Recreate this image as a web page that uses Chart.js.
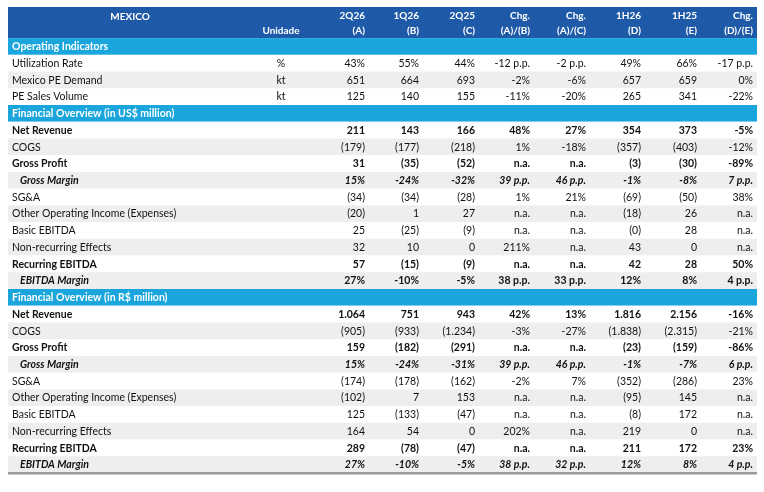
<!DOCTYPE html>
<html><head><meta charset="utf-8">
<script src="https://cdn.jsdelivr.net/npm/chart.js@4"></script>
<style>html,body{margin:0;padding:0;background:#fff}#wrap{width:764px;height:492px}</style>
</head><body><div id="wrap"><canvas id="tbl"></canvas></div>
<script>
// Dados da tabela
const headTop = ['', '', '2Q26', '1Q26', '2Q25', 'Chg.', 'Chg.', '1H26', '1H25', 'Chg.'];
const headBottom = ['', 'Unidade', '(A)', '(B)', '(C)', '(A)/(B)', '(A)/(C)', '(D)', '(E)', '(D)/(E)'];
const rowLabels = [
  'Operating Indicators', 'Utilization Rate', 'Mexico PE Demand', 'PE Sales Volume',
  'Financial Overview (in US$ million)', 'Net Revenue', 'COGS', 'Gross Profit', 'Gross Margin', 'SG&A',
  'Other Operating Income (Expenses)', 'Basic EBITDA', 'Non-recurring Effects', 'Recurring EBITDA', 'EBITDA Margin',
  'Financial Overview (in R$ million)', 'Net Revenue', 'COGS', 'Gross Profit', 'Gross Margin', 'SG&A',
  'Other Operating Income (Expenses)', 'Basic EBITDA', 'Non-recurring Effects', 'Recurring EBITDA', 'EBITDA Margin'
];
// s = secao, n = normal, b = negrito, bi = italico negrito, m = rotulo italico valores negrito
const rowStyles = ['s','n','n','n','s','b','n','b','bi','n','n','n','n','b','m','s','b','n','b','bi','n','n','n','n','b','bi'];
const units = ['', '%', 'kt', 'kt', '', '', '', '', '', '', '', '', '', '', '', '', '', '', '', '', '', '', '', '', '', ''];
const values = [
  [],
  ['43%','55%','44%','-12 p.p.','-2 p.p.','49%','66%','-17 p.p.'],
  ['651','664','693','-2%','-6%','657','659','0%'],
  ['125','140','155','-11%','-20%','265','341','-22%'],
  [],
  ['211','143','166','48%','27%','354','373','-5%'],
  ['(179)','(177)','(218)','1%','-18%','(357)','(403)','-12%'],
  ['31','(35)','(52)','n.a.','n.a.','(3)','(30)','-89%'],
  ['15%','-24%','-32%','39 p.p.','46 p.p.','-1%','-8%','7 p.p.'],
  ['(34)','(34)','(28)','1%','21%','(69)','(50)','38%'],
  ['(20)','1','27','n.a.','n.a.','(18)','26','n.a.'],
  ['25','(25)','(9)','n.a.','n.a.','(0)','28','n.a.'],
  ['32','10','0','211%','n.a.','43','0','n.a.'],
  ['57','(15)','(9)','n.a.','n.a.','42','28','50%'],
  ['27%','-10%','-5%','38 p.p.','33 p.p.','12%','8%','4 p.p.'],
  [],
  ['1.064','751','943','42%','13%','1.816','2.156','-16%'],
  ['(905)','(933)','(1.234)','-3%','-27%','(1.838)','(2.315)','-21%'],
  ['159','(182)','(291)','n.a.','n.a.','(23)','(159)','-86%'],
  ['15%','-24%','-31%','39 p.p.','46 p.p.','-1%','-7%','6 p.p.'],
  ['(174)','(178)','(162)','-2%','7%','(352)','(286)','23%'],
  ['(102)','7','153','n.a.','n.a.','(95)','145','n.a.'],
  ['125','(133)','(47)','n.a.','n.a.','(8)','172','n.a.'],
  ['164','54','0','202%','n.a.','219','0','n.a.'],
  ['289','(78)','(47)','n.a.','n.a.','211','172','23%'],
  ['27%','-10%','-5%','38 p.p.','32 p.p.','12%','8%','4 p.p.']
];

// Layout (unidades do eixo x = px dentro da area)
const colRight = [357, 411, 467, 522, 578, 633, 689, 745];
const unitCenter = 273;
const headH = 1.86;
const FONT = 'Lato, "Open Sans", sans-serif';

const tablePlugin = {
  id: 'tablePlugin',
  beforeDatasetsDraw(chart) {
    const c = chart.ctx, xs = chart.scales.x, ys = chart.scales.y;
    const X0 = xs.getPixelForValue(0), X1 = xs.getPixelForValue(749);
    // cabecalho
    c.fillStyle = '#1f5aa8';
    c.fillRect(X0, ys.getPixelForValue(-headH), X1 - X0, ys.getPixelForValue(0) - ys.getPixelForValue(-headH));
    // fundos das linhas
    let alt = 0;
    rowLabels.forEach((l, i) => {
      const yt = ys.getPixelForValue(i), yb = ys.getPixelForValue(i + 1);
      if (rowStyles[i] === 's') { c.fillStyle = '#1aa6dc'; alt = 0; }
      else { c.fillStyle = alt % 2 ? '#eeeeee' : '#ffffff'; alt++; }
      c.fillRect(X0, yt, X1 - X0, yb - yt);
    });
    c.fillStyle = '#9a9a9a';
    c.fillRect(X0, ys.getPixelForValue(rowLabels.length) - 1, X1 - X0, 2.5);

    // textos do cabecalho
    c.fillStyle = '#ffffff';
    c.textBaseline = 'middle';
    c.font = 'bold 10px ' + FONT;
    c.textAlign = 'center';
    c.fillText('MEXICO', xs.getPixelForValue(122), ys.getPixelForValue(-headH * 0.68));
    c.fillText(headBottom[1], xs.getPixelForValue(unitCenter), ys.getPixelForValue(-headH * 0.25));
    c.textAlign = 'right';
    colRight.forEach((cx, j) => {
      c.fillText(headTop[j + 2], xs.getPixelForValue(cx), ys.getPixelForValue(-headH * 0.73));
      c.fillText(headBottom[j + 2], xs.getPixelForValue(cx), ys.getPixelForValue(-headH * 0.25));
    });

    // linhas
    rowLabels.forEach((l, i) => {
      const st = rowStyles[i], y = ys.getPixelForValue(i + 0.52);
      c.textAlign = 'left';
      if (st === 's') {
        c.fillStyle = '#ffffff'; c.font = 'bold 10.5px ' + FONT;
        c.fillText(l, xs.getPixelForValue(4), y);
        return;
      }
      c.fillStyle = '#111111';
      const lf = st === 'b' ? 'bold ' : (st === 'bi' || st === 'm') ? 'italic bold ' : '';
      c.font = lf + '10.5px ' + FONT;
      c.fillText(l, xs.getPixelForValue(lf.includes('italic') ? 12 : 4), y);
      const vf = st === 'b' ? 'bold ' : st === 'bi' ? 'italic bold ' : st === 'm' ? 'bold ' : '';
      c.font = vf + '10.5px ' + FONT;
      if (units[i]) { c.textAlign = 'center'; c.fillText(units[i], xs.getPixelForValue(unitCenter), y); }
      c.textAlign = 'right';
      values[i].forEach((v, j) => c.fillText(v, xs.getPixelForValue(colRight[j]), y));
    });
  }
};

new Chart(document.getElementById('tbl'), {
  type: 'scatter',
  data: { datasets: [{ data: [], pointRadius: 0 }] },
  options: {
    responsive: true,
    maintainAspectRatio: false,
    animation: false,
    layout: { padding: { left: 8, right: 7, top: 7, bottom: 19 } },
    plugins: { legend: { display: false }, tooltip: { enabled: false } },
    scales: {
      x: { type: 'linear', min: 0, max: 749, display: false },
      y: { type: 'linear', min: -headH, max: rowLabels.length, reverse: true, display: false }
    }
  },
  plugins: [tablePlugin]
});
</script></body></html>
